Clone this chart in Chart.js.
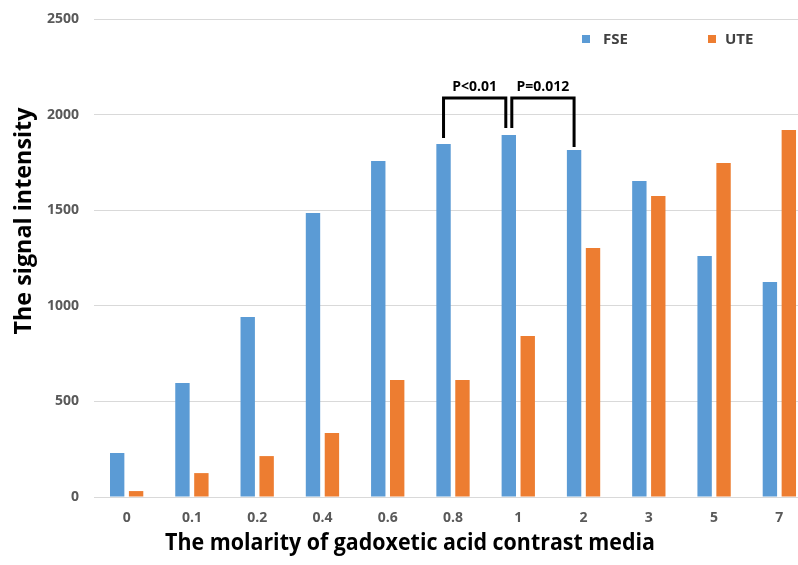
<!DOCTYPE html>
<html>
<head>
<meta charset="utf-8">
<script src="https://cdn.jsdelivr.net/npm/chart.js@4.4.0/dist/chart.umd.min.js"></script>
<style>
    html, body { margin: 0; padding: 0; background: #fff; overflow: hidden; }
    #chart { display: block; }
</style>
</head>
<body>
<canvas id="chart" width="812" height="565"></canvas>
<script>
// Données
const molarity = ['0', '0.1', '0.2', '0.4', '0.6', '0.8', '1', '2', '3', '5', '7'];
const fseValues = [230, 596, 941, 1485, 1757, 1846, 1893, 1815, 1653, 1260, 1125];
const uteValues = [31, 125, 214, 335, 612, 612, 842, 1302, 1574, 1747, 1920];
const yTicks = [0, 500, 1000, 1500, 2000, 2500];

// Comparaisons (indices des catégories) et libellés
const comparisons = [
    { from: 5, to: 6, label: 'P<0.01' },
    { from: 6, to: 7, label: 'P=0.012' }
];

const FONT = '"Open Sans", "Noto Sans", sans-serif';

// Titre ajusté à une largeur donnée
function fitText(ctx, text, x, y, width) {
    const w = ctx.measureText(text).width;
    ctx.save();
    ctx.translate(x, y);
    ctx.scale(width / w, 1);
    ctx.fillText(text, 0, 0);
    ctx.restore();
}

const extrasPlugin = {
    id: 'extras',
    afterDraw(chart) {
        const ctx = chart.ctx;
        const y = chart.scales.y;
        const fseMeta = chart.getDatasetMeta(0);

        // Titres des axes
        ctx.save();
        ctx.fillStyle = '#000';
        ctx.font = 'bold 24px ' + FONT;
        ctx.textAlign = 'center';
        ctx.textBaseline = 'middle';
        fitText(ctx, 'The molarity of gadoxetic acid contrast media', 410, 543, 490);
        ctx.translate(24, 221);
        ctx.rotate(-Math.PI / 2);
        fitText(ctx, 'The signal intensity', 0, 0, 227);
        ctx.restore();

        // Légende
        ctx.save();
        ctx.font = 'bold 15px ' + FONT;
        ctx.textBaseline = 'middle';
        ctx.fillStyle = '#5B9BD5';
        ctx.fillRect(582, 35, 8, 8);
        ctx.fillStyle = '#ED7D31';
        ctx.fillRect(708, 35, 8, 8);
        ctx.fillStyle = '#404040';
        ctx.fillText('FSE', 603, 40);
        ctx.fillText('UTE', 725, 40);
        ctx.restore();

        // Crochets de significativité
        ctx.save();
        ctx.strokeStyle = '#000';
        ctx.lineWidth = 3;
        ctx.font = 'bold 14px ' + FONT;
        ctx.fillStyle = '#000';
        ctx.textAlign = 'center';
        ctx.textBaseline = 'middle';
        const topY = 98;
        comparisons.forEach((c, i) => {
            let x1 = fseMeta.data[c.from].x;
            let x2 = fseMeta.data[c.to].x;
            if (i === 0) x2 -= 3; else x1 += 3;
            const y1 = y.getPixelForValue(fseValues[c.from]) - 6;
            const y2 = y.getPixelForValue(fseValues[c.to]) - 3;
            const b1 = i === 1 ? topY + 30 : y1;
            const b2 = i === 0 ? topY + 30 : y2;
            ctx.beginPath();
            ctx.moveTo(x1, b1);
            ctx.lineTo(x1, topY);
            ctx.lineTo(x2, topY);
            ctx.lineTo(x2, b2);
            ctx.stroke();
            ctx.fillText(c.label, (x1 + x2) / 2, topY - 11);
        });
        ctx.restore();
    }
};

new Chart(document.getElementById('chart'), {
    type: 'bar',
    data: {
        labels: molarity,
        datasets: [{
            label: 'FSE',
            data: fseValues,
            backgroundColor: '#5B9BD5',
            categoryPercentage: 0.58,
            barPercentage: 0.76
        }, {
            label: 'UTE',
            data: uteValues,
            backgroundColor: '#ED7D31',
            categoryPercentage: 0.58,
            barPercentage: 0.76
        }]
    },
    options: {
        responsive: false,
        animation: false,
        layout: { padding: { top: 19, right: 0, left: 0, bottom: 0 } },
        plugins: {
            legend: { display: false },
            tooltip: { enabled: false }
        },
        scales: {
            x: {
                grid: { display: false, drawTicks: false },
                border: { display: false },
                ticks: {
                    color: '#595959',
                    font: { family: FONT, size: 14, weight: 'bold' },
                    padding: 13,
                    maxRotation: 0
                },
                afterFit(scale) { scale.height = 68; }
            },
            y: {
                min: 0,
                max: 2500,
                afterBuildTicks(scale) { scale.ticks = yTicks.map(v => ({ value: v })); },
                grid: { color: '#D9D9D9', lineWidth: 1, drawTicks: false },
                border: { display: false },
                ticks: {
                    color: '#595959',
                    font: { family: FONT, size: 14, weight: 'bold' },
                    padding: 15,
                    callback: v => String(v)
                },
                afterFit(scale) {
                    scale.width = 94;
                    scale.paddingTop = 0;
                }
            }
        }
    },
    plugins: [extrasPlugin]
});
</script>
</body>
</html>
